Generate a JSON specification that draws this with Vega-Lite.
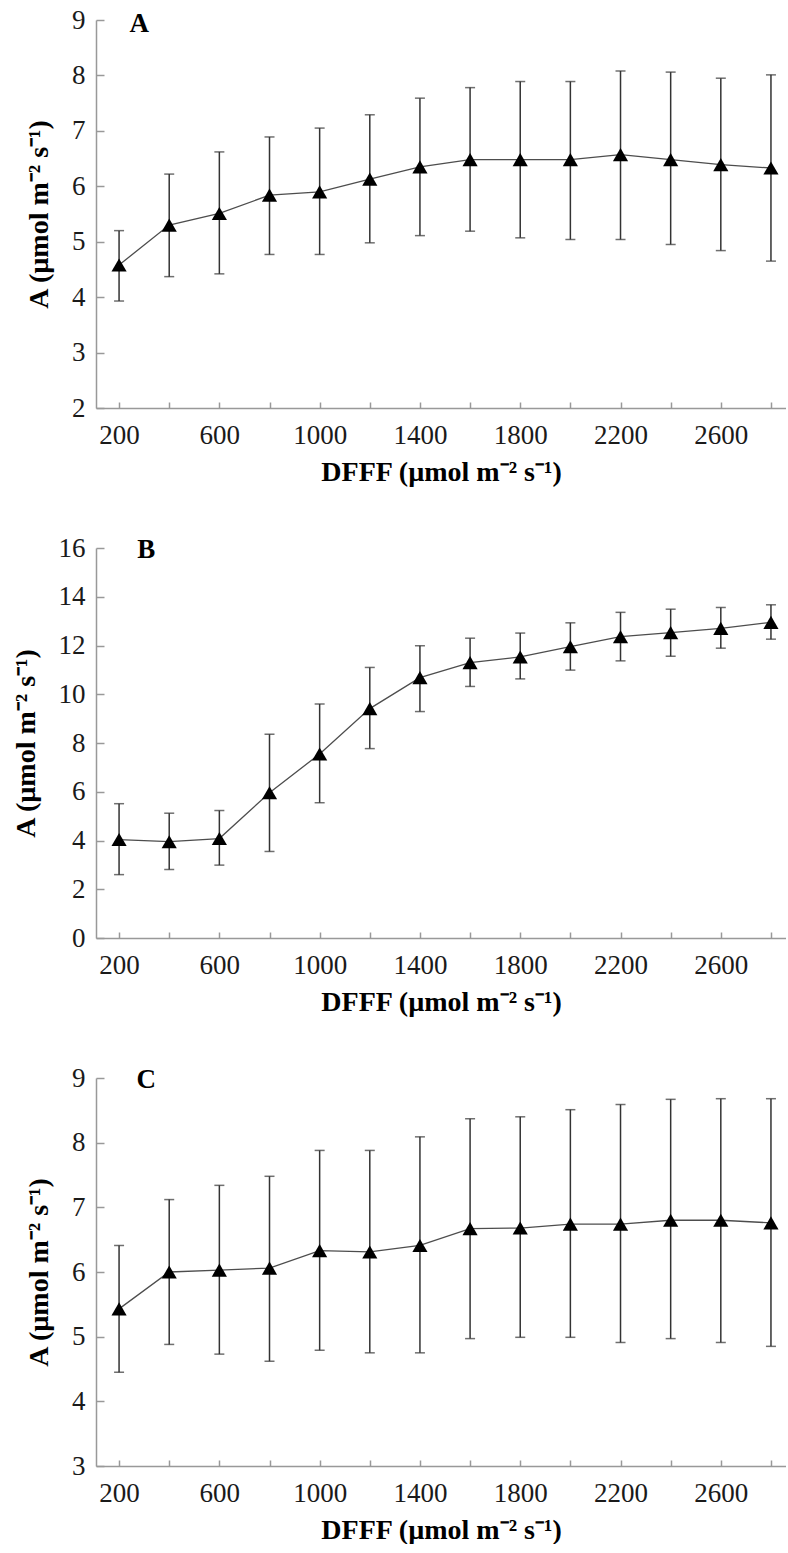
{
  "$schema": "https://vega.github.io/schema/vega-lite/v6.json",
  "padding": {"left": 12, "top": 6, "right": 0, "bottom": 0},
  "background": "white",
  "bounds": "flush",
  "spacing": 140,
  "datasets": {
    "a": [
      {"x": 200, "m": 4.58, "lo": 3.93, "hi": 5.20},
      {"x": 400, "m": 5.30, "lo": 4.37, "hi": 6.22},
      {"x": 600, "m": 5.51, "lo": 4.42, "hi": 6.62},
      {"x": 800, "m": 5.84, "lo": 4.77, "hi": 6.89},
      {"x": 1000, "m": 5.90, "lo": 4.77, "hi": 7.05},
      {"x": 1200, "m": 6.13, "lo": 4.98, "hi": 7.29},
      {"x": 1400, "m": 6.35, "lo": 5.11, "hi": 7.59},
      {"x": 1600, "m": 6.48, "lo": 5.19, "hi": 7.78},
      {"x": 1800, "m": 6.48, "lo": 5.07, "hi": 7.89},
      {"x": 2000, "m": 6.48, "lo": 5.04, "hi": 7.89},
      {"x": 2200, "m": 6.57, "lo": 5.04, "hi": 8.08},
      {"x": 2400, "m": 6.48, "lo": 4.95, "hi": 8.06},
      {"x": 2600, "m": 6.39, "lo": 4.84, "hi": 7.95},
      {"x": 2800, "m": 6.33, "lo": 4.65, "hi": 8.01}
    ],
    "b": [
      {"x": 200, "m": 4.04, "lo": 2.60, "hi": 5.51},
      {"x": 400, "m": 3.95, "lo": 2.81, "hi": 5.12},
      {"x": 600, "m": 4.08, "lo": 2.99, "hi": 5.23},
      {"x": 800, "m": 5.96, "lo": 3.55, "hi": 8.36},
      {"x": 1000, "m": 7.55, "lo": 5.55, "hi": 9.60},
      {"x": 1200, "m": 9.41, "lo": 7.77, "hi": 11.10},
      {"x": 1400, "m": 10.68, "lo": 9.29, "hi": 11.99},
      {"x": 1600, "m": 11.30, "lo": 10.32, "hi": 12.30},
      {"x": 1800, "m": 11.53, "lo": 10.63, "hi": 12.51},
      {"x": 2000, "m": 11.95, "lo": 10.99, "hi": 12.93},
      {"x": 2200, "m": 12.36, "lo": 11.37, "hi": 13.36},
      {"x": 2400, "m": 12.53, "lo": 11.56, "hi": 13.49},
      {"x": 2600, "m": 12.70, "lo": 11.89, "hi": 13.56},
      {"x": 2800, "m": 12.95, "lo": 12.26, "hi": 13.67}
    ],
    "c": [
      {"x": 200, "m": 5.43, "lo": 4.45, "hi": 6.41},
      {"x": 400, "m": 6.00, "lo": 4.88, "hi": 7.12},
      {"x": 600, "m": 6.03, "lo": 4.73, "hi": 7.34},
      {"x": 800, "m": 6.06, "lo": 4.62, "hi": 7.48},
      {"x": 1000, "m": 6.33, "lo": 4.79, "hi": 7.88},
      {"x": 1200, "m": 6.31, "lo": 4.75, "hi": 7.88},
      {"x": 1400, "m": 6.41, "lo": 4.75, "hi": 8.09},
      {"x": 1600, "m": 6.67, "lo": 4.97, "hi": 8.37},
      {"x": 1800, "m": 6.68, "lo": 4.99, "hi": 8.40},
      {"x": 2000, "m": 6.74, "lo": 4.99, "hi": 8.51},
      {"x": 2200, "m": 6.74, "lo": 4.91, "hi": 8.59},
      {"x": 2400, "m": 6.80, "lo": 4.97, "hi": 8.67},
      {"x": 2600, "m": 6.80, "lo": 4.91, "hi": 8.68},
      {"x": 2800, "m": 6.76, "lo": 4.85, "hi": 8.68}
    ],
    "la": [{"x": 280, "y": 8.93, "t": "A"}],
    "lb": [{"x": 308, "y": 15.9, "t": "B"}],
    "lc": [{"x": 308, "y": 8.97, "t": "C"}]
  },
  "config": {
    "view": {"stroke": null},
    "axis": {
      "grid": false,
      "domainColor": "#999999",
      "domainWidth": 1.5,
      "tickColor": "#999999",
      "tickWidth": 1.5,
      "labelFont": "Liberation Serif",
      "labelFontSize": 27,
      "labelColor": "#1a1a1a",
      "titleFont": "Liberation Serif",
      "titleFontSize": 28,
      "titleFontWeight": "bold",
      "titleColor": "#000000"
    },
    "axisX": {"tickSize": -6, "labelPadding": 20, "titlePadding": 10, "labelOverlap": false, "labelFlush": false},
    "axisY": {"tickSize": -8, "labelPadding": 19, "titlePadding": 18, "format": "d"}
  },
  "vconcat": [
    {
      "width": 690,
      "height": 388,
      "data": {"name": "a"},
      "encoding": {
        "x": {"field": "x", "type": "quantitative", "scale": {"domain": [108, 2860], "nice": false, "zero": false},
          "axis": {"title": "DFFF (µmol m⁻² s⁻¹)", "values": [200,400,600,800,1000,1200,1400,1600,1800,2000,2200,2400,2600,2800], "labelExpr": "(datum.value - 200) % 400 == 0 ? toString(datum.value) : ''"}}
      },
      "layer": [
        {"mark": {"type": "rule", "color": "#333333", "strokeWidth": 1.5},
         "encoding": {"y": {"field": "lo", "type": "quantitative", "scale": {"domain": [2, 9], "nice": false, "zero": false}, "axis": {"title": "A (µmol m⁻² s⁻¹)", "values": [2,3,4,5,6,7,8,9]}}, "y2": {"field": "hi"}}},
        {"mark": {"type": "tick", "orient": "horizontal", "color": "#333333", "size": 10, "thickness": 1.5},
         "encoding": {"y": {"field": "hi", "type": "quantitative"}}},
        {"mark": {"type": "tick", "orient": "horizontal", "color": "#333333", "size": 10, "thickness": 1.5},
         "encoding": {"y": {"field": "lo", "type": "quantitative"}}},
        {"mark": {"type": "line", "color": "#4d4d4d", "strokeWidth": 1.3},
         "encoding": {"y": {"field": "m", "type": "quantitative"}}},
        {"mark": {"type": "point", "shape": "triangle-up", "filled": true, "color": "#000000", "opacity": 1, "size": 230},
         "encoding": {"y": {"field": "m", "type": "quantitative"}}},
        {"data": {"name": "la"},
         "mark": {"type": "text", "font": "Liberation Serif", "fontSize": 27, "fontWeight": "bold", "color": "#000000"},
         "encoding": {"y": {"field": "y", "type": "quantitative"}, "text": {"field": "t"}}}
      ]
    },
    {
      "width": 690,
      "height": 390,
      "data": {"name": "b"},
      "encoding": {
        "x": {"field": "x", "type": "quantitative", "scale": {"domain": [108, 2860], "nice": false, "zero": false},
          "axis": {"title": "DFFF (µmol m⁻² s⁻¹)", "values": [200,400,600,800,1000,1200,1400,1600,1800,2000,2200,2400,2600,2800], "labelExpr": "(datum.value - 200) % 400 == 0 ? toString(datum.value) : ''"}}
      },
      "layer": [
        {"mark": {"type": "rule", "color": "#333333", "strokeWidth": 1.5},
         "encoding": {"y": {"field": "lo", "type": "quantitative", "scale": {"domain": [0, 16], "nice": false, "zero": false}, "axis": {"title": "A (µmol m⁻² s⁻¹)", "values": [0,2,4,6,8,10,12,14,16]}}, "y2": {"field": "hi"}}},
        {"mark": {"type": "tick", "orient": "horizontal", "color": "#333333", "size": 10, "thickness": 1.5},
         "encoding": {"y": {"field": "hi", "type": "quantitative"}}},
        {"mark": {"type": "tick", "orient": "horizontal", "color": "#333333", "size": 10, "thickness": 1.5},
         "encoding": {"y": {"field": "lo", "type": "quantitative"}}},
        {"mark": {"type": "line", "color": "#4d4d4d", "strokeWidth": 1.3},
         "encoding": {"y": {"field": "m", "type": "quantitative"}}},
        {"mark": {"type": "point", "shape": "triangle-up", "filled": true, "color": "#000000", "opacity": 1, "size": 230},
         "encoding": {"y": {"field": "m", "type": "quantitative"}}},
        {"data": {"name": "lb"},
         "mark": {"type": "text", "font": "Liberation Serif", "fontSize": 27, "fontWeight": "bold", "color": "#000000"},
         "encoding": {"y": {"field": "y", "type": "quantitative"}, "text": {"field": "t"}}}
      ]
    },
    {
      "width": 690,
      "height": 388,
      "data": {"name": "c"},
      "encoding": {
        "x": {"field": "x", "type": "quantitative", "scale": {"domain": [108, 2860], "nice": false, "zero": false},
          "axis": {"title": "DFFF (µmol m⁻² s⁻¹)", "values": [200,400,600,800,1000,1200,1400,1600,1800,2000,2200,2400,2600,2800], "labelExpr": "(datum.value - 200) % 400 == 0 ? toString(datum.value) : ''"}}
      },
      "layer": [
        {"mark": {"type": "rule", "color": "#333333", "strokeWidth": 1.5},
         "encoding": {"y": {"field": "lo", "type": "quantitative", "scale": {"domain": [3, 9], "nice": false, "zero": false}, "axis": {"title": "A (µmol m⁻² s⁻¹)", "values": [3,4,5,6,7,8,9]}}, "y2": {"field": "hi"}}},
        {"mark": {"type": "tick", "orient": "horizontal", "color": "#333333", "size": 10, "thickness": 1.5},
         "encoding": {"y": {"field": "hi", "type": "quantitative"}}},
        {"mark": {"type": "tick", "orient": "horizontal", "color": "#333333", "size": 10, "thickness": 1.5},
         "encoding": {"y": {"field": "lo", "type": "quantitative"}}},
        {"mark": {"type": "line", "color": "#4d4d4d", "strokeWidth": 1.3},
         "encoding": {"y": {"field": "m", "type": "quantitative"}}},
        {"mark": {"type": "point", "shape": "triangle-up", "filled": true, "color": "#000000", "opacity": 1, "size": 230},
         "encoding": {"y": {"field": "m", "type": "quantitative"}}},
        {"data": {"name": "lc"},
         "mark": {"type": "text", "font": "Liberation Serif", "fontSize": 27, "fontWeight": "bold", "color": "#000000"},
         "encoding": {"y": {"field": "y", "type": "quantitative"}, "text": {"field": "t"}}}
      ]
    }
  ]
}
